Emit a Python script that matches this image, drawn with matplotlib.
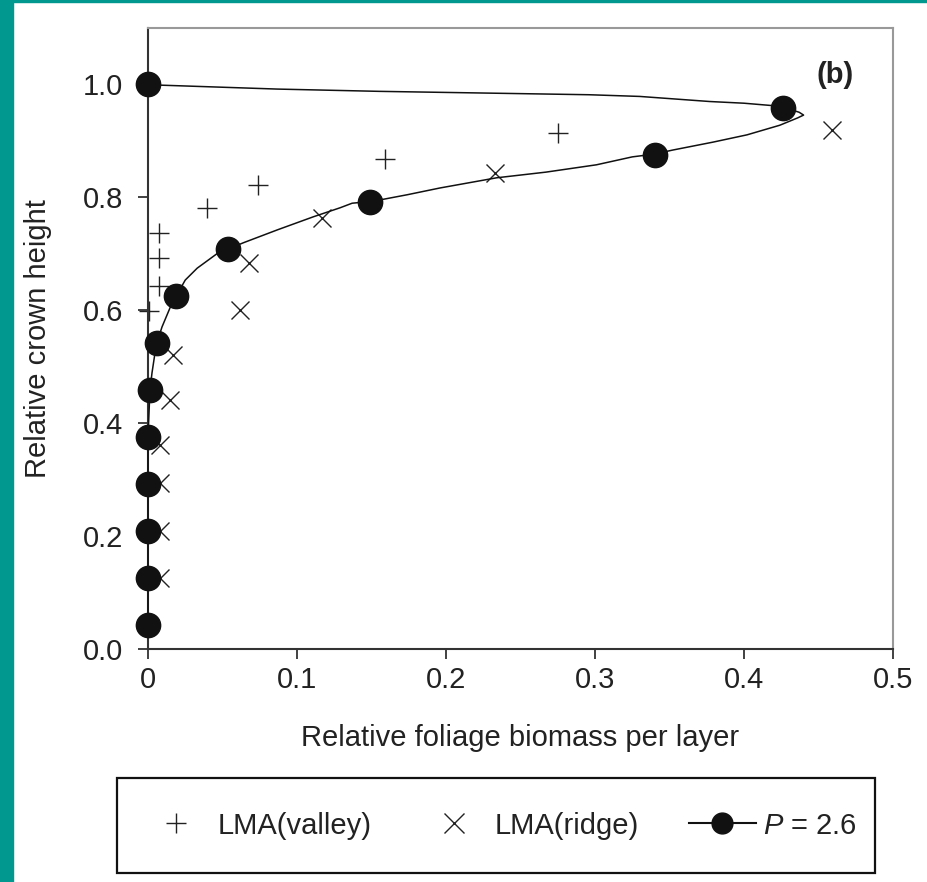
import matplotlib.pyplot as plt
from matplotlib.lines import Line2D
from matplotlib.patches import Rectangle

plt.rcParams['font.family'] = ['Liberation Sans', 'DejaVu Sans']
plt.rcParams['mathtext.fontset'] = 'custom'
plt.rcParams['mathtext.it'] = 'Liberation Sans:italic'
plt.rcParams['mathtext.rm'] = 'Liberation Sans'

# LMA (valley) "+"
valley_x = [0.0076, 0.0076, 0.0076, 0.001, 0.0394, 0.074, 0.159, 0.275]
valley_y = [0.736, 0.692, 0.643, 0.599, 0.780, 0.822, 0.867, 0.913]

# LMA (ridge) "x"
ridge_x = [0.459, 0.233, 0.1166, 0.068, 0.0617, 0.017, 0.0148, 0.008, 0.008, 0.008, 0.008]
ridge_y = [0.919, 0.842, 0.762, 0.683, 0.600, 0.520, 0.440, 0.361, 0.293, 0.208, 0.126]

# P = 2.6 layer values (filled circles)
layer_y = [0.0417, 0.125, 0.2083, 0.2917, 0.375, 0.4583, 0.5417, 0.625,
           0.7083, 0.7917, 0.875, 0.9583, 1.0]
layer_x = [0, 0, 0, 0, 0, 0.0013, 0.006, 0.019, 0.054, 0.149, 0.340, 0.426, 0]

# P = 2.6 fitted curve
curve_x = [0, 0.008, 0.087, 0.155, 0.296, 0.33, 0.377, 0.40, 0.418, 0.426,
           0.437, 0.440, 0.436, 0.424, 0.402, 0.379, 0.352, 0.340, 0.325, 0.301,
           0.267, 0.234, 0.196, 0.174, 0.156, 0.149, 0.137, 0.129, 0.111, 0.087,
           0.064, 0.054, 0.047, 0.033, 0.025, 0.019, 0.0148, 0.0094, 0.006, 0.0047,
           0.0027, 0.0013, 0, 0]
curve_y = [1.0, 0.998, 0.991, 0.987, 0.981, 0.978, 0.969, 0.966, 0.962, 0.959,
           0.950, 0.945, 0.940, 0.927, 0.910, 0.897, 0.883, 0.876, 0.871, 0.857,
           0.844, 0.834, 0.816, 0.804, 0.795, 0.792, 0.789, 0.781, 0.765, 0.742,
           0.719, 0.708, 0.701, 0.674, 0.653, 0.625, 0.604, 0.570, 0.542, 0.524,
           0.489, 0.458, 0.375, 0.0417]

x_ticks = [0, 0.1, 0.2, 0.3, 0.4, 0.5]
x_tick_labels = ['0', '0.1', '0.2', '0.3', '0.4', '0.5']
y_ticks = [0.0, 0.2, 0.4, 0.6, 0.8, 1.0]
y_tick_labels = ['0.0', '0.2', '0.4', '0.6', '0.8', '1.0']

fs = 21
fig = plt.figure(figsize=(9.28, 8.82), dpi=100)
teal = '#00988F'
fig.patches.append(Rectangle((0, 0), 13 / 928, 1, transform=fig.transFigure,
                             color=teal, zorder=-1))
fig.patches.append(Rectangle((0, 1 - 2 / 882), 1, 2 / 882, transform=fig.transFigure,
                             color=teal, zorder=-1))

ax = fig.add_axes([148 / 928, 233 / 882, 745 / 928, 621.5 / 882])

ax.plot(curve_x, curve_y, color='#111111', lw=1.1, zorder=3, clip_on=False)
ax.plot(valley_x, valley_y, ls='none', marker='+', ms=15, mew=1.0,
        color='#222222', zorder=2, clip_on=False)
ax.plot(ridge_x, ridge_y, ls='none', marker='x', ms=13.5, mew=1.0,
        color='#222222', zorder=2, clip_on=False)
ax.plot(layer_x, layer_y, ls='none', marker='o', ms=17.5,
        color='#111111', zorder=4, clip_on=False)

ax.set_xlim(0, 0.5)
ax.set_ylim(0, 1.1)
ax.set_xticks(x_ticks)
ax.set_xticklabels(x_tick_labels)
ax.set_yticks(y_ticks)
ax.set_yticklabels(y_tick_labels)
ax.tick_params(axis='both', direction='out', length=7, width=1.3,
               colors='#333333', labelsize=fs, labelcolor='#222222')
ax.tick_params(axis='x', pad=5)
ax.tick_params(axis='y', pad=11)

for side in ['left', 'bottom']:
    ax.spines[side].set_color('#333333')
    ax.spines[side].set_linewidth(1.5)
for side in ['top', 'right']:
    ax.spines[side].set_color('#999999')
    ax.spines[side].set_linewidth(1.5)

ax.set_xlabel('Relative foliage biomass per layer', fontsize=fs, color='#222222')
ax.set_ylabel('Relative crown height', fontsize=fs, color='#222222')
ax.xaxis.set_label_coords(0.5, -0.12)
ax.yaxis.set_label_coords(-0.129, 0.5)

ax.text(0.461, 1.016, '(b)', fontsize=fs, fontweight='bold', ha='center',
        va='center', color='#222222')

# legend frame drawn as a plain box
fig.patches.append(Rectangle((117 / 928, 1 - 873 / 882), 758 / 928, 95 / 882,
                             transform=fig.transFigure, fill=False,
                             edgecolor='#111111', linewidth=1.6, zorder=1))

handles = [
    Line2D([], [], ls='none', marker='+', ms=15, mew=1.0, color='#222222'),
    Line2D([], [], ls='none', marker='x', ms=14, mew=1.0, color='#222222'),
    Line2D([], [], ls='-', lw=1.5, marker='o', ms=15, color='#111111'),
]
labels = ['LMA(valley)', 'LMA(ridge)', r'$P$ = 2.6']
leg = fig.legend(handles, labels, loc='center', bbox_to_anchor=(500 / 928, 1 - 825.5 / 882),
                 ncol=3, fontsize=fs, frameon=False,
                 handlelength=2.3, handletextpad=0.25, columnspacing=1.7)
for t in leg.get_texts():
    t.set_color('#222222')

fig.savefig('out.png', dpi=100)
